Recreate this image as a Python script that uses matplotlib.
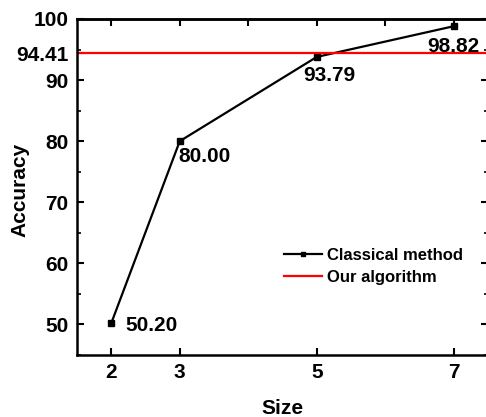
import matplotlib
matplotlib.use("Agg")
import matplotlib.pyplot as plt
from matplotlib.ticker import MultipleLocator

SIZES = [2, 3, 5, 7]
CLASSICAL = [50.20, 80.00, 93.79, 98.82]
OUR_ALGORITHM = 94.41
VALUE_LABELS = ["50.20", "80.00", "93.79", "98.82"]

# text placement per point: (dx px, dy px, ha, va)
LABEL_POS = [(14, -2, "left", "center"), (-1, -6, "left", "top"),
             (-14, -9, "left", "top"), (0, -11, "center", "top")]

plt.rcParams["font.family"] = ["Liberation Sans", "DejaVu Sans"]
plt.rcParams["font.weight"] = "bold"

W, H = 486, 417
fig = plt.figure(figsize=(W / 100, H / 100), dpi=100)
ax = fig.add_axes([77 / W, 1 - 355 / H, (488 - 77) / W, (355 - 19) / H])

ax.plot(SIZES, CLASSICAL, "s-", color="black", linewidth=1.6, markersize=5,
        label="Classical method")
ax.axhline(OUR_ALGORITHM, color="red", linewidth=1.6, label="Our algorithm")

for x, y, txt, (dx, dy, ha, va) in zip(SIZES, CLASSICAL, VALUE_LABELS, LABEL_POS):
    ax.annotate(txt, (x, y), xytext=(dx, dy), textcoords="offset pixels",
                ha=ha, va=va, fontsize=15, fontweight="bold")

ax.set_xlim(1.5, 7.5)
ax.set_ylim(45, 100)
ax.set_xticks(SIZES)
ax.set_yticks([50, 60, 70, 80, 90, OUR_ALGORITHM, 100])
ax.set_yticklabels(["50", "60", "70", "80", "90", "94.41", "100"])
ax.yaxis.set_minor_locator(MultipleLocator(5))
ax.tick_params(which="major", direction="in", length=5, width=1.5,
               labelsize=15, pad=6)
ax.tick_params(which="minor", direction="in", length=3, width=1.2)

top = ax.secondary_xaxis("top")
top.set_xticks([2, 3, 4, 5, 6, 7])
top.tick_params(direction="in", length=5, width=1.5, labeltop=False)
right = ax.secondary_yaxis("right")
right.set_yticks([50, 60, 70, 80, 90, 100])
right.yaxis.set_minor_locator(MultipleLocator(5))
right.tick_params(which="major", direction="in", length=5, width=1.5, labelright=False)
right.tick_params(which="minor", direction="in", length=3, width=1.2)

for s in list(ax.spines.values()):
    s.set_linewidth(1.8)
top.spines["top"].set_linewidth(1.8)
right.spines["right"].set_linewidth(1.8)

ax.set_xlabel("Size", fontsize=15, fontweight="bold")
ax.set_ylabel("Accuracy", fontsize=15, fontweight="bold")
ax.xaxis.set_label_coords(0.5, (355 - 399) / 336)
ax.yaxis.set_label_coords((29 - 77) / 411, 0.49)

ax.legend(loc="center left", bbox_to_anchor=(284 / W, 1 - 266.5 / H),
          bbox_transform=fig.transFigure, frameon=False,
          handlelength=2.3, handletextpad=0.3, labelspacing=0.38,
          borderpad=0, borderaxespad=0, markerscale=0.7,
          prop={"weight": "bold", "size": 12})

fig.savefig("out.png", dpi=100)
